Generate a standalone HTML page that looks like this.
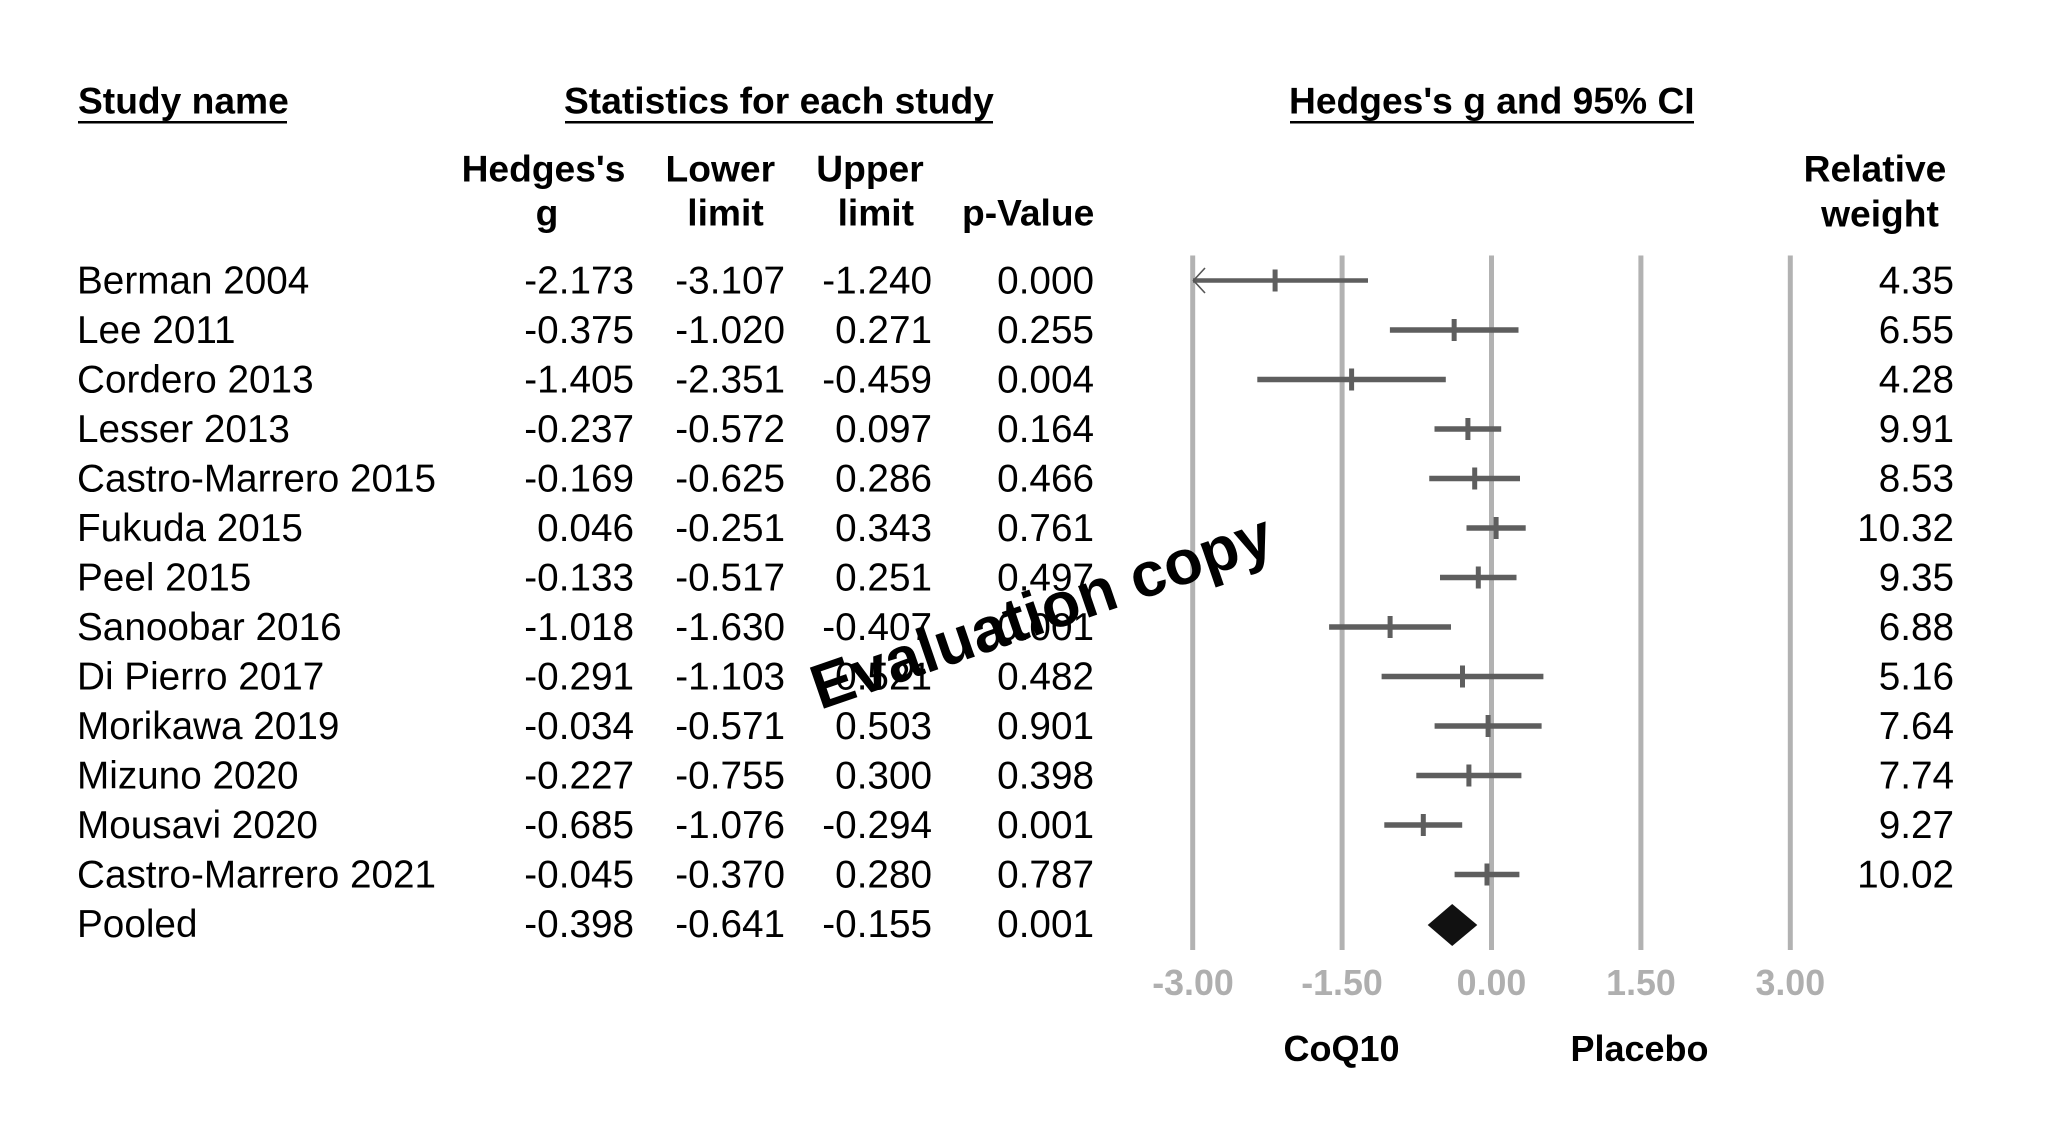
<!DOCTYPE html>
<html>
<head>
<meta charset="utf-8">
<style>
  html, body { margin: 0; padding: 0; background: #ffffff; }
  body { width: 2048px; height: 1126px; overflow: hidden; }
  svg { display: block; }
  text { font-family: "Liberation Sans", Arial, sans-serif; fill: #000; }
  .reg { font-size: 38.7px; }
  .hdr { font-size: 37.2px; font-weight: bold; }
  .tick { font-size: 35.8px; font-weight: bold; fill: #afafaf; }
  .lab { font-size: 36px; font-weight: bold; }
  .wm { font-size: 63px; font-weight: bold; }
</style>
</head>
<body>
<svg width="2048" height="1126" viewBox="0 0 2048 1126" xmlns="http://www.w3.org/2000/svg">
  <rect x="0" y="0" width="2048" height="1126" fill="#ffffff"/>

  <!-- Top headers -->
  <text class="hdr" x="78" y="113.5">Study name</text>
  <line x1="78" y1="122.3" x2="287" y2="122.3" stroke="#000" stroke-width="2.5"/>
  <text class="hdr" x="564" y="113.5">Statistics for each study</text>
  <line x1="565" y1="122.3" x2="993" y2="122.3" stroke="#000" stroke-width="2.5"/>
  <text class="hdr" x="1289" y="113.5">Hedges's g and 95% CI</text>
  <line x1="1290" y1="122.3" x2="1694" y2="122.3" stroke="#000" stroke-width="2.5"/>

  <!-- Column headers -->
  <text class="hdr" x="543.5" y="181.7" text-anchor="middle">Hedges's</text>
  <text class="hdr" x="547" y="225.5" text-anchor="middle">g</text>
  <text class="hdr" x="720.3" y="181.7" text-anchor="middle">Lower</text>
  <text class="hdr" x="725.5" y="225.5" text-anchor="middle">limit</text>
  <text class="hdr" x="870" y="181.7" text-anchor="middle">Upper</text>
  <text class="hdr" x="875.8" y="225.5" text-anchor="middle">limit</text>
  <text class="hdr" x="962" y="225.5">p-Value</text>
  <text class="hdr" x="1875" y="181.7" text-anchor="middle">Relative</text>
  <text class="hdr" x="1880" y="226.5" text-anchor="middle">weight</text>

  <!-- Study names -->
  <g>
    <text class="reg" x="77" y="293.3">Berman 2004</text>
    <text class="reg" x="77" y="342.8">Lee 2011</text>
    <text class="reg" x="77" y="392.3">Cordero 2013</text>
    <text class="reg" x="77" y="441.8">Lesser 2013</text>
    <text class="reg" x="77" y="491.3">Castro-Marrero 2015</text>
    <text class="reg" x="77" y="540.8">Fukuda 2015</text>
    <text class="reg" x="77" y="590.3">Peel 2015</text>
    <text class="reg" x="77" y="639.8">Sanoobar 2016</text>
    <text class="reg" x="77" y="689.3">Di Pierro 2017</text>
    <text class="reg" x="77" y="738.8">Morikawa 2019</text>
    <text class="reg" x="77" y="788.3">Mizuno 2020</text>
    <text class="reg" x="77" y="837.8">Mousavi 2020</text>
    <text class="reg" x="77" y="887.3">Castro-Marrero 2021</text>
    <text class="reg" x="77" y="936.8">Pooled</text>
  </g>

  <!-- Hedges's g -->
  <g text-anchor="end">
    <text class="reg" x="634" y="293.3">-2.173</text>
    <text class="reg" x="634" y="342.8">-0.375</text>
    <text class="reg" x="634" y="392.3">-1.405</text>
    <text class="reg" x="634" y="441.8">-0.237</text>
    <text class="reg" x="634" y="491.3">-0.169</text>
    <text class="reg" x="634" y="540.8">0.046</text>
    <text class="reg" x="634" y="590.3">-0.133</text>
    <text class="reg" x="634" y="639.8">-1.018</text>
    <text class="reg" x="634" y="689.3">-0.291</text>
    <text class="reg" x="634" y="738.8">-0.034</text>
    <text class="reg" x="634" y="788.3">-0.227</text>
    <text class="reg" x="634" y="837.8">-0.685</text>
    <text class="reg" x="634" y="887.3">-0.045</text>
    <text class="reg" x="634" y="936.8">-0.398</text>
  </g>

  <!-- Lower limit -->
  <g text-anchor="end">
    <text class="reg" x="785" y="293.3">-3.107</text>
    <text class="reg" x="785" y="342.8">-1.020</text>
    <text class="reg" x="785" y="392.3">-2.351</text>
    <text class="reg" x="785" y="441.8">-0.572</text>
    <text class="reg" x="785" y="491.3">-0.625</text>
    <text class="reg" x="785" y="540.8">-0.251</text>
    <text class="reg" x="785" y="590.3">-0.517</text>
    <text class="reg" x="785" y="639.8">-1.630</text>
    <text class="reg" x="785" y="689.3">-1.103</text>
    <text class="reg" x="785" y="738.8">-0.571</text>
    <text class="reg" x="785" y="788.3">-0.755</text>
    <text class="reg" x="785" y="837.8">-1.076</text>
    <text class="reg" x="785" y="887.3">-0.370</text>
    <text class="reg" x="785" y="936.8">-0.641</text>
  </g>

  <!-- Upper limit -->
  <g text-anchor="end">
    <text class="reg" x="932" y="293.3">-1.240</text>
    <text class="reg" x="932" y="342.8">0.271</text>
    <text class="reg" x="932" y="392.3">-0.459</text>
    <text class="reg" x="932" y="441.8">0.097</text>
    <text class="reg" x="932" y="491.3">0.286</text>
    <text class="reg" x="932" y="540.8">0.343</text>
    <text class="reg" x="932" y="590.3">0.251</text>
    <text class="reg" x="932" y="639.8">-0.407</text>
    <text class="reg" x="932" y="689.3">0.521</text>
    <text class="reg" x="932" y="738.8">0.503</text>
    <text class="reg" x="932" y="788.3">0.300</text>
    <text class="reg" x="932" y="837.8">-0.294</text>
    <text class="reg" x="932" y="887.3">0.280</text>
    <text class="reg" x="932" y="936.8">-0.155</text>
  </g>

  <!-- p-Value -->
  <g text-anchor="end">
    <text class="reg" x="1094" y="293.3">0.000</text>
    <text class="reg" x="1094" y="342.8">0.255</text>
    <text class="reg" x="1094" y="392.3">0.004</text>
    <text class="reg" x="1094" y="441.8">0.164</text>
    <text class="reg" x="1094" y="491.3">0.466</text>
    <text class="reg" x="1094" y="540.8">0.761</text>
    <text class="reg" x="1094" y="590.3">0.497</text>
    <text class="reg" x="1094" y="639.8">0.001</text>
    <text class="reg" x="1094" y="689.3">0.482</text>
    <text class="reg" x="1094" y="738.8">0.901</text>
    <text class="reg" x="1094" y="788.3">0.398</text>
    <text class="reg" x="1094" y="837.8">0.001</text>
    <text class="reg" x="1094" y="887.3">0.787</text>
    <text class="reg" x="1094" y="936.8">0.001</text>
  </g>

  <!-- Relative weight -->
  <g text-anchor="end">
    <text class="reg" x="1954" y="293.3">4.35</text>
    <text class="reg" x="1954" y="342.8">6.55</text>
    <text class="reg" x="1954" y="392.3">4.28</text>
    <text class="reg" x="1954" y="441.8">9.91</text>
    <text class="reg" x="1954" y="491.3">8.53</text>
    <text class="reg" x="1954" y="540.8">10.32</text>
    <text class="reg" x="1954" y="590.3">9.35</text>
    <text class="reg" x="1954" y="639.8">6.88</text>
    <text class="reg" x="1954" y="689.3">5.16</text>
    <text class="reg" x="1954" y="738.8">7.64</text>
    <text class="reg" x="1954" y="788.3">7.74</text>
    <text class="reg" x="1954" y="837.8">9.27</text>
    <text class="reg" x="1954" y="887.3">10.02</text>
  </g>

  <!-- Gridlines -->
  <g stroke="#b2b2b2" stroke-width="5">
    <line x1="1192.7" y1="255.5" x2="1192.7" y2="950"/>
    <line x1="1342.1" y1="255.5" x2="1342.1" y2="950"/>
    <line x1="1491.5" y1="255.5" x2="1491.5" y2="950"/>
    <line x1="1640.9" y1="255.5" x2="1640.9" y2="950"/>
    <line x1="1790.3" y1="255.5" x2="1790.3" y2="950"/>
  </g>

  <!-- CI bars -->
  <g stroke="#5e5e5e" stroke-width="5.5">
    <line x1="1193" y1="280.5" x2="1368.0" y2="280.5" stroke-width="4.5"/>
    <line x1="1389.9" y1="330" x2="1518.5" y2="330"/>
    <line x1="1257.3" y1="379.5" x2="1445.8" y2="379.5"/>
    <line x1="1434.5" y1="429" x2="1501.2" y2="429"/>
    <line x1="1429.25" y1="478.5" x2="1520.0" y2="478.5"/>
    <line x1="1466.5" y1="528" x2="1525.7" y2="528"/>
    <line x1="1440.0" y1="577.5" x2="1516.5" y2="577.5"/>
    <line x1="1329.1" y1="627" x2="1451.0" y2="627"/>
    <line x1="1381.6" y1="676.5" x2="1543.4" y2="676.5"/>
    <line x1="1434.6" y1="726" x2="1541.6" y2="726"/>
    <line x1="1416.3" y1="775.5" x2="1521.4" y2="775.5"/>
    <line x1="1384.3" y1="825" x2="1462.2" y2="825"/>
    <line x1="1454.6" y1="874.5" x2="1519.4" y2="874.5"/>
  </g>

  <!-- Point estimate ticks -->
  <g stroke="#5e5e5e" stroke-width="5">
    <line x1="1275.1" y1="269.5" x2="1275.1" y2="291.5"/>
    <line x1="1454.15" y1="319" x2="1454.15" y2="341"/>
    <line x1="1351.6" y1="368.5" x2="1351.6" y2="390.5"/>
    <line x1="1467.9" y1="418" x2="1467.9" y2="440"/>
    <line x1="1474.7" y1="467.5" x2="1474.7" y2="489.5"/>
    <line x1="1496.1" y1="517" x2="1496.1" y2="539"/>
    <line x1="1478.3" y1="566.5" x2="1478.3" y2="588.5"/>
    <line x1="1390.1" y1="616" x2="1390.1" y2="638"/>
    <line x1="1462.5" y1="665.5" x2="1462.5" y2="687.5"/>
    <line x1="1488.1" y1="715" x2="1488.1" y2="737"/>
    <line x1="1468.9" y1="764.5" x2="1468.9" y2="786.5"/>
    <line x1="1423.3" y1="814" x2="1423.3" y2="836"/>
    <line x1="1487.0" y1="863.5" x2="1487.0" y2="885.5"/>
  </g>

  <!-- Arrow for clipped Berman lower limit -->
  <polyline points="1205,268 1193.5,280.5 1205,293" fill="none" stroke="#555" stroke-width="1.6"/>

  <!-- Pooled diamond -->
  <polygon points="1427.7,925 1452.2,904 1477.3,925 1452.2,946" fill="#111111"/>

  <!-- Axis tick labels -->
  <g text-anchor="middle">
    <text class="tick" x="1193" y="995">-3.00</text>
    <text class="tick" x="1342" y="995">-1.50</text>
    <text class="tick" x="1491.5" y="995">0.00</text>
    <text class="tick" x="1641" y="995">1.50</text>
    <text class="tick" x="1790.3" y="995">3.00</text>
  </g>

  <!-- Favours labels -->
  <text class="lab" x="1341.5" y="1061" text-anchor="middle">CoQ10</text>
  <text class="lab" x="1639.5" y="1061" text-anchor="middle">Placebo</text>

  <!-- Watermark -->
  <text class="wm" x="820" y="710" transform="rotate(-19 820 710)">Evaluation copy</text>
</svg>
</body>
</html>
